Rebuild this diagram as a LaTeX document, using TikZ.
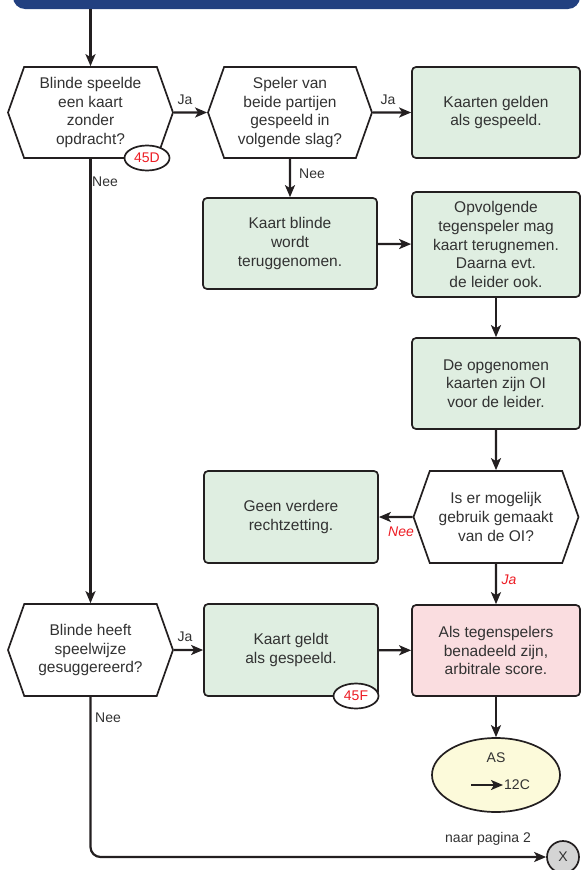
\documentclass[tikz,border=0pt]{standalone}
\usepackage{fontspec}
\setmainfont{Liberation Sans}
\usetikzlibrary{shapes.symbols,shapes.geometric,arrows.meta}
\definecolor{Ink}{RGB}{35,31,32}
\definecolor{Grey}{RGB}{50,50,50}
\definecolor{Green}{RGB}{223,238,225}
\definecolor{Pink}{RGB}{250,221,224}
\definecolor{Yellow}{RGB}{252,250,218}
\definecolor{Navy}{RGB}{34,64,128}
\definecolor{Red}{RGB}{237,28,36}
\definecolor{Silver}{RGB}{212,212,212}
\newcommand{\bodyfont}{\fontsize{15.5}{18.6}\selectfont}
\newcommand{\labelfont}{\fontsize{14}{16}\selectfont}
\tikzset{
	question/.style={signal, signal to=west and east, signal pointer angle=141, draw=Ink, fill=white, line width=1.7pt, minimum width=165pt, minimum height=91pt, inner sep=0pt, align=center, text=Grey, font=\bodyfont},
	action/.style={rectangle, rounded corners=4pt, draw=Ink, line width=1.7pt, align=center, text=Grey, font=\bodyfont},
	badge/.style={ellipse, draw=Ink, fill=white, line width=1.7pt, minimum width=45pt, minimum height=25pt, inner sep=0pt, text=Red, font=\labelfont},
	flow/.style={-{Stealth[length=12pt, width=10pt, inset=3pt]}, draw=Ink, line width=2.2pt},
	answer/.style={text=Grey, font=\labelfont, inner sep=1pt}
}

\begin{document}
\begin{tikzpicture}[x=1pt, y=-1pt]
	\useasboundingbox (0,0) rectangle (584,870);
	
	% Banner
	\node (banner) [fill=Navy, rounded corners=12pt, minimum width=567pt, minimum height=40pt] at (296.5,-11) {};
	
	% Questions
	\node (played) [question] at (90.5,112.5) {Blinde speelde\\een kaart\\zonder\\opdracht?};
	\node (both) [question, minimum width=164pt] at (290,112.5) {Speler van\\beide partijen\\gespeeld in\\volgende slag?};
	\node (used) [question, minimum height=92pt] at (496,517) {Is er mogelijk\\gebruik gemaakt\\van de OI?};
	\node (hinted) [question, minimum height=92pt] at (90.5,650) {Blinde heeft\\speelwijze\\gesuggereerd?};
	
	% Blocks
	\node (valid) [action, fill=Green, minimum width=168pt, minimum height=91pt] at (496,112.5) {Kaarten gelden\\als gespeeld.};
	\node (back) [action, fill=Green, minimum width=174pt, minimum height=91pt] at (290,243.5) {Kaart blinde\\wordt\\teruggenomen.};
	\node (next) [action, fill=Green, minimum width=168pt, minimum height=105pt] at (496,244.5) {Opvolgende\\tegenspeler mag\\kaart terugnemen.\\Daarna evt.\\de leider ook.};
	\node (oi) [action, fill=Green, minimum width=168pt, minimum height=91pt] at (496,383.5) {De opgenomen\\kaarten zijn OI\\voor de leider.};
	\node (none) [action, fill=Green, minimum width=174pt, minimum height=92pt] at (291,517) {Geen verdere\\rechtzetting.};
	\node (counts) [action, fill=Green, minimum width=174pt, minimum height=92pt] at (291,650) {Kaart geldt\\als gespeeld.};
	\node (score) [action, fill=Pink, minimum width=168pt, minimum height=91pt] at (496,650.5) {Als tegenspelers\\benadeeld zijn,\\arbitrale score.};
	
	% Ends
	\node (as) [ellipse, draw=Ink, fill=Yellow, line width=1.7pt, minimum width=128pt, minimum height=74pt] at (496,775) {};
	\node (asName) [text=Grey, font=\labelfont] at (496,758) {AS};
	\node (asRule) [text=Grey, font=\labelfont, anchor=west, inner sep=1pt] at (503,785) {12C};
	\coordinate (asTail) at (471,785);
	\node (page) [circle, draw=Ink, fill=Silver, line width=1.7pt, minimum size=32pt, inner sep=0pt, text=Grey, font=\labelfont] at (563,857) {X};
	
	% Badges
	\node (refD) [badge] at (147,158) {45D};
	\node (refF) [badge] at (356,696) {45F};
	
	% Flow
	\draw[flow] (played.north |- banner.south) -- (played.north);
	\draw[flow] (played) -- (both);
	\draw[flow] (both) -- (valid);
	\draw[flow] (both) -- (back);
	\draw[flow] (back) -- (next);
	\draw[flow] (next) -- (oi);
	\draw[flow] (oi) -- (used);
	\draw[flow] (used) -- (none);
	\draw[flow] (used) -- (score);
	\draw[flow] (played.south) -- (hinted.north);
	\draw[flow] (hinted) -- (counts);
	\draw[flow] (counts) -- (score);
	\draw[flow] (score) -- (as);
	\draw[flow, line width=1.8pt] (asTail) -- (asRule.west);
	\draw[flow, rounded corners=10pt] (hinted.south) |- (page.west);
	
	% Answers
	\node (jaOne) [answer] at (185,100) {Ja};
	\node (jaTwo) [answer] at (388,100) {Ja};
	\node (neeOne) [answer] at (105,182) {Nee};
	\node (neeTwo) [answer] at (312,174) {Nee};
	\node (neeThree) [answer, text=Red, font=\labelfont\itshape] at (401,532) {Nee};
	\node (jaThree) [answer, text=Red, font=\labelfont\itshape] at (509,580) {Ja};
	\node (jaFour) [answer] at (185,637) {Ja};
	\node (neeFour) [answer] at (108,718) {Nee};
	\node (toPage) [answer] at (488,839) {naar pagina 2};
	
\end{tikzpicture}
\end{document}
